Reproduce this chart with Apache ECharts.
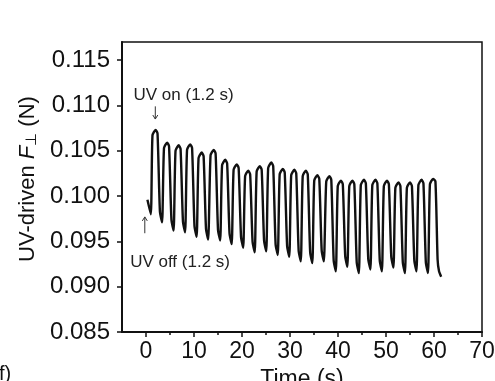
<!DOCTYPE html>
<html>
<head>
<meta charset="utf-8">
<script src="https://cdn.jsdelivr.net/npm/echarts@6/dist/echarts.min.js"></script>
<style>
html,body{margin:0;padding:0;background:#fff;}
#c{width:495px;height:381px;}
</style>
</head>
<body>
<div id="c"></div>
<script>
// Time (s)
const time = [0.3, 1.0,
  1.35, 2.0, 2.4, 2.9, 3.35,
  3.75, 4.4, 4.8, 5.3, 5.75,
  6.15, 6.8, 7.2, 7.7, 8.15,
  8.55, 9.2, 9.6, 10.1, 10.55,
  10.95, 11.6, 12.0, 12.5, 12.95,
  13.45, 14.1, 14.5, 15.0, 15.45,
  15.85, 16.5, 16.9, 17.4, 17.85,
  18.25, 18.9, 19.3, 19.8, 20.25,
  20.65, 21.3, 21.7, 22.2, 22.65,
  23.05, 23.7, 24.1, 24.6, 25.05,
  25.45, 26.1, 26.5, 27.0, 27.45,
  27.85, 28.5, 28.9, 29.4, 29.85,
  30.25, 30.9, 31.3, 31.8, 32.25,
  32.65, 33.3, 33.7, 34.2, 34.65,
  35.05, 35.7, 36.1, 36.6, 37.05,
  37.55, 38.2, 38.6, 39.1, 39.55,
  39.95, 40.6, 41.0, 41.5, 41.95,
  42.35, 43.0, 43.4, 43.9, 44.35,
  44.75, 45.4, 45.8, 46.3, 46.75,
  47.15, 47.8, 48.2, 48.7, 49.15,
  49.55, 50.2, 50.6, 51.1, 51.55,
  51.95, 52.6, 53.0, 53.5, 53.95,
  54.35, 55.0, 55.4, 55.9, 56.35,
  56.75, 57.4, 57.8, 58.3, 58.75,
  59.15, 59.8, 60.3, 60.75, 61.05, 61.5];
// UV-driven force (N)
const force = [0.0996, 0.0980,
  0.1067, 0.1073, 0.1069, 0.0983, 0.0971,
  0.1053, 0.1059, 0.1055, 0.0974, 0.0962,
  0.1050, 0.1056, 0.1052, 0.0972, 0.0960,
  0.1051, 0.1057, 0.1053, 0.0967, 0.0955,
  0.1042, 0.1048, 0.1044, 0.0964, 0.0952,
  0.1045, 0.1051, 0.1047, 0.0963, 0.0951,
  0.1034, 0.1040, 0.1036, 0.0959, 0.0947,
  0.1029, 0.1035, 0.1031, 0.0955, 0.0943,
  0.1022, 0.1028, 0.1024, 0.0950, 0.0938,
  0.1027, 0.1033, 0.1029, 0.0951, 0.0939,
  0.1031, 0.1037, 0.1033, 0.0947, 0.0935,
  0.1024, 0.1030, 0.1026, 0.0945, 0.0933,
  0.1023, 0.1029, 0.1025, 0.0940, 0.0928,
  0.1022, 0.1028, 0.1024, 0.0938, 0.0926,
  0.1017, 0.1023, 0.1019, 0.0940, 0.0928,
  0.1016, 0.1022, 0.1018, 0.0929, 0.0917,
  0.1011, 0.1017, 0.1013, 0.0934, 0.0922,
  0.1011, 0.1017, 0.1013, 0.0927, 0.0915,
  0.1012, 0.1018, 0.1014, 0.0931, 0.0919,
  0.1012, 0.1018, 0.1014, 0.0929, 0.0917,
  0.1011, 0.1017, 0.1013, 0.0933, 0.0921,
  0.1009, 0.1015, 0.1011, 0.0927, 0.0915,
  0.1009, 0.1015, 0.1011, 0.0929, 0.0917,
  0.1012, 0.1018, 0.1014, 0.0927, 0.0915,
  0.1013, 0.1019, 0.1016, 0.0930, 0.0917, 0.0911];

const yTicks = [0.085, 0.090, 0.095, 0.100, 0.105, 0.110, 0.115];
const xTicks = [0, 10, 20, 30, 40, 50, 60, 70];
const xMinorTicks = [5, 15, 25, 35, 45, 55, 65];

// annotations (data coordinates)
const annoText = ['UV on (1.2 s)', 'UV off (1.2 s)'];
const annoT = [-2.6, -3.3];
const annoV = [0.1111, 0.0927];
const arrowT = [1.94, -0.25];
const arrowFrom = [0.1099, 0.0959];
const arrowTo = [0.1085, 0.0977];

const FONT = '"Liberation Sans", Arial, Helvetica, sans-serif';
const chart = echarts.init(document.getElementById('c'), null, {renderer: 'canvas'});

const option = {
  animation: false,
  backgroundColor: '#fff',
  grid: {left: 122, right: 13, top: 42, bottom: 49, show: true, borderColor: '#111', borderWidth: 1.5,
    backgroundColor: 'transparent', containLabel: false, outerBoundsMode: 'none'},
  xAxis: [{
    type: 'value', min: -5, max: 70,
    axisLine: {show: true, onZero: false, lineStyle: {color: '#111', width: 2}},
    axisTick: {show: true, customValues: xTicks, length: 5, lineStyle: {color: '#111', width: 1.5}},
    axisLabel: {customValues: xTicks, fontSize: 23, color: '#111', fontFamily: FONT, margin: 8},
    splitLine: {show: false},
    name: 'Time (s)', nameLocation: 'middle', nameGap: 31,
    nameTextStyle: {fontSize: 23, color: '#111', fontFamily: FONT}
  }, {
    type: 'value', min: -5, max: 70, position: 'bottom',
    axisLine: {show: false, onZero: false},
    axisTick: {show: true, customValues: xMinorTicks, length: 3, lineStyle: {color: '#111', width: 1.5}},
    axisLabel: {show: false},
    splitLine: {show: false}
  }],
  yAxis: {
    type: 'value', min: 0.085, max: 0.117,
    axisLine: {show: true, onZero: false, lineStyle: {color: '#111', width: 2}},
    axisTick: {show: true, customValues: yTicks, length: 5, lineStyle: {color: '#111', width: 1.5}},
    axisLabel: {customValues: yTicks, fontSize: 24, color: '#111', fontFamily: FONT, margin: 12,
      formatter: v => v.toFixed(3)},
    splitLine: {show: false},
    name: 'UV-driven {i|F}{s|⊥} (N)', nameLocation: 'middle', nameGap: 77,
    nameTextStyle: {fontSize: 22, color: '#111', fontFamily: FONT, padding: [0, 0, 0, 16],
      rich: {
        i: {fontSize: 22, fontStyle: 'italic', color: '#111', fontFamily: FONT},
        s: {fontSize: 15, color: '#111', fontFamily: FONT, padding: [8, 0, 0, 0]}
      }}
  },
  series: [{
    type: 'line',
    xAxisIndex: 0, yAxisIndex: 0,
    data: time.map((t, i) => [t, force[i]]),
    showSymbol: false,
    smooth: 0.2,
    lineStyle: {color: '#111', width: 2.4}
  }]
};
chart.setOption(option);

const px = (t, v) => chart.convertToPixel({xAxisIndex: 0, yAxisIndex: 0}, [t, v]);
const graphics = [];
annoText.forEach((s, i) => {
  const p = px(annoT[i], annoV[i]);
  graphics.push({type: 'text', x: p[0], y: p[1],
    style: {text: s, font: '17px ' + FONT, fill: '#222', textVerticalAlign: 'middle', verticalAlign: 'middle'}});
});
arrowT.forEach((t, i) => {
  const a = px(t, arrowFrom[i]);
  const b = px(t, arrowTo[i]);
  const dir = b[1] > a[1] ? 1 : -1;
  graphics.push({type: 'line', shape: {x1: a[0], y1: a[1], x2: b[0], y2: b[1]}, style: {stroke: '#333', lineWidth: 1}});
  graphics.push({type: 'polyline', shape: {points: [[b[0] - 2.5, b[1] - dir * 4], [b[0], b[1]], [b[0] + 2.5, b[1] - dir * 4]]},
    style: {stroke: '#333', lineWidth: 1, fill: null}});
});
graphics.push({type: 'text', x: -1, y: 364, style: {text: 'f)', font: '20px ' + FONT, fill: '#111'}});
chart.setOption({graphic: graphics});
</script>
</body>
</html>
